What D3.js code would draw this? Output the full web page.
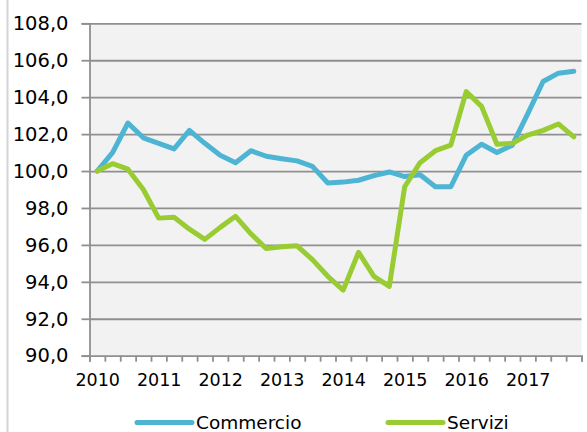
<!DOCTYPE html>
<html>
<head>
<meta charset="utf-8">
<script src="https://cdn.jsdelivr.net/npm/d3@7"></script>
<style>
  body { margin: 0; background: #fff; }
  svg { display: block; font-family: "DejaVu Sans", sans-serif; }
</style>
</head>
<body>
<div id="chart"></div>
<script>
// quarters 2010 Q1 .. 2017 Q4
const quarters = d3.range(32).map(i => `${2010 + Math.floor(i / 4)}Q${i % 4 + 1}`);
const yearLabels = ["2010", "2011", "2012", "2013", "2014", "2015", "2016", "2017"];
const yTicks = [90, 92, 94, 96, 98, 100, 102, 104, 106, 108];

const commercio = [100.0, 101.0, 102.6, 101.8, 101.5, 101.2, 102.2, 101.5,
                   100.85, 100.45, 101.1, 100.8, 100.67, 100.55, 100.25, 99.35,
                   99.4, 99.5, 99.75, 99.95, 99.7, 99.8, 99.15, 99.15,
                   100.85, 101.45, 101.0, 101.4, 103.1, 104.85, 105.3, 105.4];
const servizi = [100.0, 100.4, 100.1, 99.0, 97.45, 97.5, 96.85, 96.3,
                 96.95, 97.55, 96.6, 95.8, 95.9, 95.95, 95.2, 94.3,
                 93.55, 95.6, 94.3, 93.75, 99.15, 100.45, 101.1, 101.4,
                 104.3, 103.5, 101.45, 101.5, 101.95, 102.2, 102.55, 101.85];

const series = [
    { name: "Commercio", values: commercio, color: "#4db4d3" },
    { name: "Servizi", values: servizi, color: "#99cc33" }
];

function draw() {
    const width = 587, height = 432;
    const plot = { left: 89.5, right: 581.5, top: 23.3, bottom: 355.7 };

    const svg = d3.select("#chart").append("svg")
        .attr("width", width)
        .attr("height", height);

    // outer frame edge on the left
    svg.append("line")
        .attr("x1", 7.5).attr("x2", 7.5)
        .attr("y1", 0).attr("y2", height)
        .attr("stroke", "#d4d4d4")
        .attr("stroke-width", 2);

    const x = d3.scaleLinear()
        .domain([-0.5, quarters.length - 0.5])
        .range([plot.left, plot.right]);
    const y = d3.scaleLinear()
        .domain([90, 108])
        .range([plot.bottom, plot.top]);

    svg.append("rect")
        .attr("x", plot.left).attr("y", plot.top)
        .attr("width", plot.right - plot.left)
        .attr("height", plot.bottom - plot.top)
        .attr("fill", "#f2f2f2");

    const itLocale = d3.formatLocale({ decimal: ",", thousands: ".", grouping: [3], currency: ["", "€"] });
    const fmt = itLocale.format(".1f");

    // gridlines
    svg.append("g")
        .attr("transform", `translate(${plot.left},0)`)
        .call(d3.axisLeft(y).tickValues(yTicks.slice(1)).tickSize(-(plot.right - plot.left)).tickFormat(""))
        .call(g => g.select(".domain").remove())
        .call(g => g.selectAll("line").attr("stroke", "#8f8f8f").attr("stroke-width", 1.8));

    // y axis
    const yAxis = svg.append("g")
        .attr("transform", `translate(${plot.left},0)`)
        .call(d3.axisLeft(y).tickValues(yTicks).tickSize(8).tickPadding(13).tickFormat(fmt));
    yAxis.select(".domain").attr("stroke", "#8f8f8f").attr("stroke-width", 1.8);
    yAxis.selectAll("line").attr("stroke", "#8f8f8f").attr("stroke-width", 1.8);
    yAxis.selectAll("text")
        .attr("fill", "#000")
        .style("font-size", "19.5px")
        .style("font-family", "DejaVu Sans, sans-serif");

    // x axis: quarter tick marks
    const xAxis = svg.append("g")
        .attr("transform", `translate(0,${plot.bottom})`)
        .call(d3.axisBottom(x).tickValues(d3.range(-0.5, quarters.length, 1)).tickSize(6).tickFormat(""));
    xAxis.select(".domain").attr("stroke", "#8f8f8f").attr("stroke-width", 1.8);
    xAxis.selectAll("line").attr("stroke", "#8f8f8f").attr("stroke-width", 1.8);

    // x axis: year labels at first quarter of each year
    const xLabels = svg.append("g")
        .attr("transform", `translate(0,${plot.bottom})`)
        .call(d3.axisBottom(x)
            .tickValues(yearLabels.map((d, i) => i * 4))
            .tickSize(0).tickPadding(18)
            .tickFormat((d, i) => yearLabels[i]));
    xLabels.select(".domain").remove();
    xLabels.selectAll("text")
        .attr("fill", "#000")
        .style("font-size", "17.5px")
        .style("font-family", "DejaVu Sans, sans-serif");

    const line = d3.line()
        .x((d, i) => x(i))
        .y(d => y(d));

    svg.selectAll(".series")
        .data(series)
        .enter().append("path")
        .attr("class", "series")
        .attr("d", d => line(d.values))
        .attr("fill", "none")
        .attr("stroke", d => d.color)
        .attr("stroke-width", 5)
        .attr("stroke-linejoin", "round")
        .attr("stroke-linecap", "round");

    // legend
    const legendX = [137, 388];
    const legend = svg.selectAll(".legend")
        .data(series)
        .enter().append("g")
        .attr("class", "legend")
        .attr("transform", (d, i) => `translate(${legendX[i]},422.5)`);
    legend.append("line")
        .attr("x1", 0).attr("x2", 55)
        .attr("stroke", d => d.color)
        .attr("stroke-width", 5)
        .attr("stroke-linecap", "round");
    legend.append("text")
        .attr("x", 59)
        .attr("dy", "0.35em")
        .style("font-size", "18.5px")
        .text(d => d.name);
}

draw();
</script>
</body>
</html>
